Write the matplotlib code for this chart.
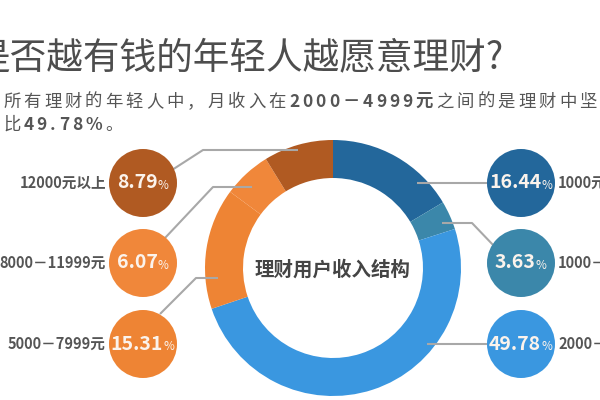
import numpy as np
import matplotlib
matplotlib.use('Agg')
import matplotlib.pyplot as plt
from matplotlib.patches import Circle

plt.rcParams['font.family'] = ['Noto Sans CJK SC', 'DejaVu Sans']

# data (clockwise from 12 o'clock)
cats = ['1000元以下', '1000－1999元', '2000－4999元', '5000－7999元', '8000－11999元', '12000元以上']
vals = [16.44, 3.63, 49.78, 15.31, 6.07, 8.79]
cols = ['#23679b', '#3b87aa', '#3a97e0', '#ee8434', '#f0873a', '#b05a22']

title = '是否越有钱的年轻人越愿意理财?'
center_txt = '理财用户收入结构'
sub1 = [('所有理财的年轻人中，月收入在', 'normal'), ('2000－4999元', 'bold'),
        ('之间的是理财中坚力量，占', 'normal')]
sub2 = [('比', 'normal'), ('49.78%', 'bold'), ('。', 'normal')]

fig = plt.figure(figsize=(6, 4), dpi=100)
ax = fig.add_axes([0, 0, 1, 1])

# donut, pixel coords with y down
ax.pie(vals, colors=cols, center=(333, 268), radius=128, startangle=-90,
       counterclock=True, wedgeprops=dict(width=38, linewidth=0), normalize=True)
ax.set_xlim(0, 600)
ax.set_ylim(400, 0)
ax.set_aspect('equal')
ax.axis('off')

ax.text(333, 270, center_txt, ha='center', va='center', fontsize=14,
        fontweight='bold', color='#444444')

# bubbles: (index, cx, cy, side)
bubbles = [(0, 521, 183, 'r'), (1, 521, 263, 'r'), (2, 521, 344, 'r'),
           (5, 143, 183, 'l'), (4, 143, 263, 'l'), (3, 143, 344, 'l')]
leaders = {
    5: [(298, 150), (203, 150), (172, 170)],
    4: [(252, 187), (213, 187), (165, 238)],
    3: [(218, 278), (196, 278), (160, 314)],
    0: [(417, 183), (495, 183)],
    1: [(442, 223), (472, 223), (495, 247)],
    2: [(427, 344), (495, 344)],
}
for i, pts in leaders.items():
    xs, ys = zip(*pts)
    ax.plot(xs, ys, color='#a8a8a8', lw=1.5, zorder=2, solid_capstyle='butt')

for i, cx, cy, side in bubbles:
    ax.add_patch(Circle((cx, cy), 34, color=cols[i], zorder=3, lw=0))
    num = ax.text(cx - 6, cy, f'{vals[i]:.2f}', ha='center', va='center',
                  fontsize=14, fontweight='bold', color='#fbf3ec', zorder=4)
    ax.annotate('%', xy=(1, 0.38), xycoords=num, ha='left', va='center',
                fontsize=8.5, color='#fbf3ec', zorder=4)
    if side == 'l':
        ax.text(cx - 37, cy, cats[i], ha='right', va='center', fontsize=10.5,
                fontweight='bold', color='#555555')
    else:
        ax.text(cx + 37, cy, cats[i], ha='left', va='center', fontsize=10.5,
                fontweight='bold', color='#555555')

# title
ax.text(-26, 58, title, ha='left', va='center', fontsize=26.4, color='#4d4d4d')


def spaced(x, y, parts, size=12.5, gap=2.2, color='#555555'):
    # subtitle has letter spacing, so lay it out char by char
    prev = None
    for s, w in parts:
        for ch in s:
            if prev is None:
                prev = ax.text(x, y, ch, ha='left', va='center', fontsize=size,
                               fontweight=w, color=color)
            else:
                prev = ax.annotate(ch, xy=(1, 0.5), xycoords=prev, xytext=(gap, 0),
                                   textcoords='offset points', ha='left', va='center',
                                   fontsize=size, fontweight=w, color=color)


spaced(3, 102, sub1)
spaced(3, 125, sub2)

fig.savefig('out.png', dpi=100)
